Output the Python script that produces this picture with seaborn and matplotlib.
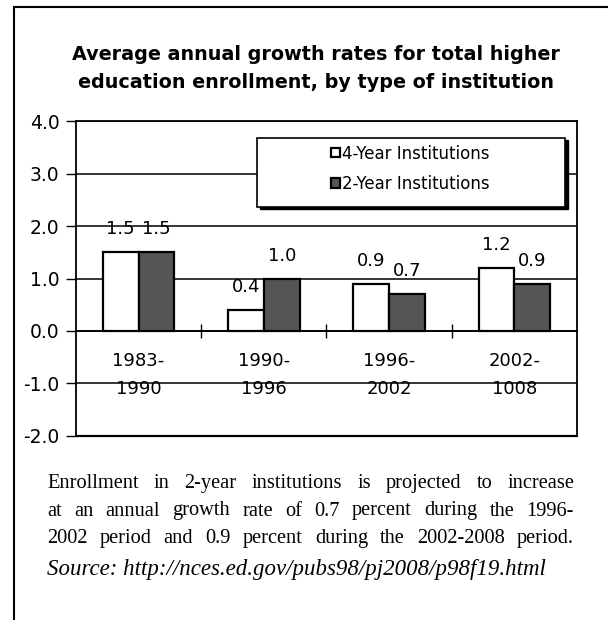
import numpy as np, pandas as pd
import matplotlib
matplotlib.use("Agg")
import matplotlib.pyplot as plt
from matplotlib.lines import Line2D
from matplotlib.patches import Rectangle
import seaborn as sns

# ── data ─────────────────────────────────────────────
periods = ["1983-\n1990", "1990-\n1996", "1996-\n2002", "2002-\n1008"]
series = ["4-Year Institutions", "2-Year Institutions"]
four_year = [1.5, 0.4, 0.9, 1.2]
two_year = [1.5, 1.0, 0.7, 0.9]
y_ticks = [-2.0, -1.0, 0.0, 1.0, 2.0, 3.0, 4.0]

title_lines = ["Average annual growth rates for total higher",
               "education enrollment, by type of institution"]
caption = ["Enrollment in 2-year institutions is projected to increase",
           "at an annual growth rate of 0.7 percent during the 1996-",
           "2002 period and 0.9 percent during the 2002-2008 period."]
source = "Source: http://nces.ed.gov/pubs98/pj2008/p98f19.html"

df = pd.DataFrame({
    "period": periods * 2,
    "type": [series[0]] * 4 + [series[1]] * 4,
    "rate": four_year + two_year,
})

sns.set_style("white")
plt.rcParams["font.family"] = ["DejaVu Sans"]
for k in ["text.color", "axes.labelcolor", "xtick.color", "ytick.color"]:
    plt.rcParams[k] = "black"
SERIF = ["Liberation Serif", "DejaVu Serif"]
W, H = 608, 620

fig = plt.figure(figsize=(W / 100, H / 100), dpi=100)
ax = fig.add_axes([0.125, 0.2968, 0.824, 0.508])

sns.barplot(data=df, x="period", y="rate", hue="type", ax=ax,
            palette={series[0]: "white", series[1]: "#555555"},
            edgecolor="black", linewidth=1.6, width=0.57, saturation=1)

for cont in ax.containers:
    ax.bar_label(cont, fmt="%.1f", padding=10, fontsize=13)

ax.set_ylim(-2, 4)
ax.set_yticks(y_ticks)
ax.set_yticklabels([f"{v:.1f}" for v in y_ticks], fontsize=13.5)
ax.set_xlabel(""); ax.set_ylabel("")
ax.set_axisbelow(True)
ax.yaxis.grid(True, color="black", lw=1.1)
ax.tick_params(axis="y", left=True, direction="out", length=7, width=1, pad=5)

# category axis crosses at zero
ax.spines["bottom"].set_position(("data", 0))
for s in ["left", "right", "top", "bottom"]:
    ax.spines[s].set_color("black")
    ax.spines[s].set_linewidth(1.3)
ax.axhline(-2, color="black", lw=1.6, clip_on=False)
ax.set_xticks([0.5, 1.5, 2.5], minor=True)
ax.tick_params(axis="x", which="minor", bottom=True, direction="inout",
               length=10, width=1)
ax.tick_params(axis="x", which="major", length=0, pad=15, labelsize=13)
for lab in ax.get_xticklabels():
    lab.set_linespacing(1.75)

# legend with shadowed box
ax.add_patch(Rectangle((0.367, 0.721), 0.615, 0.219, transform=ax.transAxes,
                       facecolor="black", edgecolor="black", zorder=4))
ax.add_patch(Rectangle((0.361, 0.727), 0.615, 0.219, transform=ax.transAxes,
                       facecolor="white", edgecolor="black", lw=1.2, zorder=5))
leg = ax.legend(loc="center", bbox_to_anchor=(0.668, 0.848), frameon=False,
                fontsize=12, handlelength=0.5, handleheight=0.5,
                handletextpad=0.15, labelspacing=0.75)
leg.set_zorder(6)

# title, two lines
for i, line in enumerate(title_lines):
    fig.text(316 / W, 1 - (55 + 28 * i) / H, line, ha="center", va="center",
             fontsize=13.8, fontweight="bold")

# justified caption
fig.canvas.draw()
renderer = fig.canvas.get_renderer()
x_left, x_right = 47, 574
for i, line in enumerate(caption):
    y = 1 - (488 + 27.5 * i) / H
    words = line.split(" ")
    texts = [fig.text(0, y, w, ha="left", va="baseline", fontsize=14.7,
                      family=SERIF) for w in words]
    widths = [t.get_window_extent(renderer).width for t in texts]
    gap = (x_right - x_left - sum(widths)) / (len(words) - 1)
    x = x_left
    for t, w in zip(texts, widths):
        t.set_x(x / W)
        x += w + gap
fig.text(x_left / W, 1 - 575 / H, source, ha="left", va="baseline",
         fontsize=16.5, style="italic", family=SERIF)

# outer frame (left and top edges)
fig.add_artist(Line2D([0.023, 0.023], [0.0, 0.989], color="black", lw=1.5))
fig.add_artist(Line2D([0.023, 1.0], [0.989, 0.989], color="black", lw=1.5))

fig.savefig("out.png", dpi=100, facecolor="white")
